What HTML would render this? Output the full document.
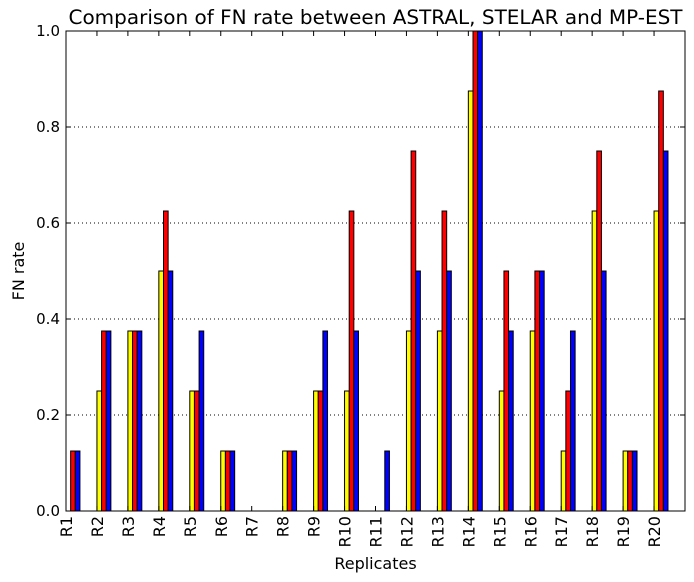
<!DOCTYPE html>
<html><head><meta charset="utf-8"><style>body{margin:0;background:#fff}svg{display:block;font-family:"DejaVu Sans","Liberation Sans",sans-serif}</style></head>
<body>
<svg id="chart" width="694" height="582"></svg>
<script>
const categories=["R1","R2","R3","R4","R5","R6","R7","R8","R9","R10","R11","R12","R13","R14","R15","R16","R17","R18","R19","R20"];
const astral=[0,.25,.375,.5,.25,.125,0,.125,.25,.25,0,.375,.375,.875,.25,.375,.125,.625,.125,.625];
const stelar=[.125,.375,.375,.625,.25,.125,0,.125,.25,.625,0,.75,.625,1,.5,.5,.25,.75,.125,.875];
const mpest=[.125,.375,.375,.5,.375,.125,0,.125,.375,.375,.125,.5,.5,1,.375,.5,.375,.5,.125,.75];
const yTicks=[0,0.2,0.4,0.6,0.8,1.0];
const yTickLabels=["0.0","0.2","0.4","0.6","0.8","1.0"];
const NS="http://www.w3.org/2000/svg",svg=document.getElementById("chart");
const L=66,R=685,T=31,B=511;
const x=v=>L+(v/20)*(R-L);
const y=v=>B-v*(B-T);
function mk(t,a,txt){const e=document.createElementNS(NS,t);for(const k in a)e.setAttribute(k,a[k]);if(txt!=null)e.textContent=txt;svg.appendChild(e);return e;}
yTicks.forEach((v,i)=>{
 if(v>0&&v<1){const g=mk("line",{x1:L,x2:R,y1:y(v),y2:y(v),stroke:"#000","stroke-dasharray":"1,3","stroke-width":1});
 
 }
 const t1=mk("line",{x1:L,x2:L+5,y1:y(v),y2:y(v),stroke:"#000"});
 
 
 const t2=mk("line",{x1:R,x2:R-5,y1:y(v),y2:y(v),stroke:"#000"});
 
 
 const lb=mk("text",{x:L-6,y:y(v)+5,"text-anchor":"end","font-size":15},yTickLabels[i]);
 
 
});
const series=[[astral,"#ffff00","astral"],[stelar,"#ff0000","stelar"],[mpest,"#0000ff","mpest"]];
const w=0.15;
categories.forEach((c,i)=>{
 series.forEach(([arr,col,nm],j)=>{
  const x0=x(i+j*w),x1=x(i+(j+1)*w);
  const r=mk("rect",{x:x0,y:y(arr[i]),width:x1-x0,height:B-y(arr[i]),fill:col,stroke:"#000","stroke-width":1});
  
  
 });
 const tk=mk("line",{x1:x(i),x2:x(i),y1:B,y2:B-5,stroke:"#000"});
 
 
 const tk2=mk("line",{x1:x(i),x2:x(i),y1:T,y2:T+5,stroke:"#000"});
 
 
 const lb=mk("text",{x:0,y:0,"text-anchor":"end","font-size":16,transform:`translate(${x(i)+6},${B+5}) rotate(-90)`},c);
 
 
});
const fr=mk("rect",{x:L,y:T,width:R-L,height:B-T,fill:"none",stroke:"#000","stroke-width":1});


const ti=mk("text",{x:(L+R)/2,y:24,"text-anchor":"middle","font-size":19.5,textLength:614,lengthAdjust:"spacingAndGlyphs"},"Comparison of FN rate between ASTRAL, STELAR and MP-EST");


const xl=mk("text",{x:(L+R)/2,y:569,"text-anchor":"middle","font-size":16},"Replicates");


const yl=mk("text",{x:0,y:0,"text-anchor":"middle","font-size":16,transform:`translate(24,${(T+B)/2}) rotate(-90)`},"FN rate");


</script>
</body></html>
